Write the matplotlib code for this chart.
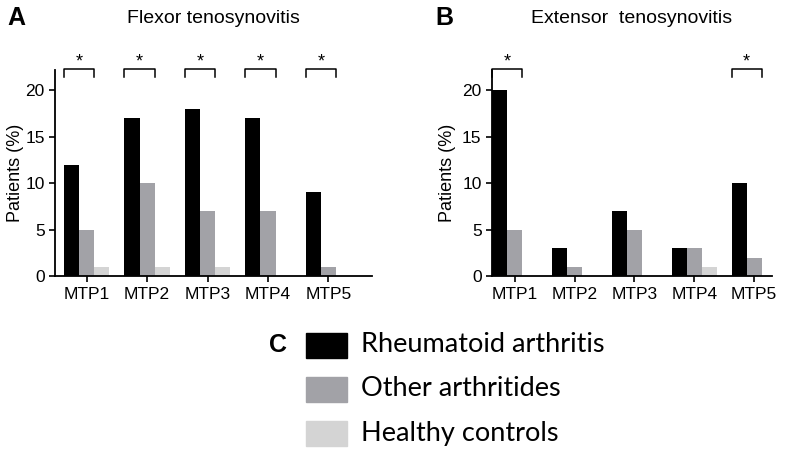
import numpy as np
import matplotlib
matplotlib.use("Agg")
import matplotlib.pyplot as plt
from matplotlib.patches import Rectangle

plt.rcParams["font.family"] = ["Liberation Sans", "DejaVu Sans"]

# data
joints = ["MTP1", "MTP2", "MTP3", "MTP4", "MTP5"]
groups = ["Rheumatoid arthritis", "Other arthritides", "Healthy controls"]
colors = ["#000000", "#a2a2a7", "#d4d4d4"]

flexor_ra = [12, 17, 18, 17, 9]
flexor_oa = [5, 10, 7, 7, 1]
flexor_hc = [1, 1, 1, 0, 0]
flexor_sig = [0, 1, 2, 3, 4]

extensor_ra = [20, 3, 7, 3, 10]
extensor_oa = [5, 1, 5, 3, 2]
extensor_hc = [0, 0, 0, 1, 0]
extensor_sig = [0, 4]


def draw_panel(ax, series, sig, title, xlim):
    x = np.arange(len(joints))
    w = 0.25
    for k, vals in enumerate(series):
        ax.bar(x + (k - 1) * w, vals, width=w, color=colors[k], linewidth=0)

    ax.set_xlim(*xlim)
    ax.set_ylim(0, 22.15)
    ax.set_yticks([0, 5, 10, 15, 20])
    ax.set_xticks(x)
    ax.set_xticklabels(joints)
    ax.tick_params(labelsize=12.5, width=1.2, length=4)
    ax.set_ylabel("Patients (%)", fontsize=13)
    for s in ["top", "right"]:
        ax.spines[s].set_visible(False)
    for s in ["left", "bottom"]:
        ax.spines[s].set_linewidth(1.3)

    # significance brackets between RA and other arthritides
    for i in sig:
        x0, x1 = i - 1.5 * w, i + 0.5 * w
        ax.plot([x0, x0, x1, x1], [21.4, 22.25, 22.25, 21.4], color="black",
                lw=1.1, clip_on=False)
        ax.text(i - 0.5 * w, 22.1, "*", ha="center", va="bottom", fontsize=13,
                clip_on=False)

    ax.text(0.5, 1.252, title, transform=ax.transAxes, ha="center", va="center",
            fontsize=14)


fig = plt.figure(figsize=(8, 4.58), dpi=100)
ax_a = fig.add_axes([0.069, 0.397, 0.396, 0.450])
ax_b = fig.add_axes([0.615, 0.397, 0.350, 0.450])

draw_panel(ax_a, [flexor_ra, flexor_oa, flexor_hc], flexor_sig,
           "Flexor tenosynovitis", (-0.52, 4.72))
draw_panel(ax_b, [extensor_ra, extensor_oa, extensor_hc], extensor_sig,
           "Extensor  tenosynovitis", (-0.38, 4.3))
ax_a.yaxis.set_label_coords(-0.10, 0.5)
ax_b.yaxis.set_label_coords(-0.13, 0.5)

fig.text(0.021, 0.96, "A", fontsize=18, fontweight="bold", va="center", ha="center")
fig.text(0.556, 0.96, "B", fontsize=18, fontweight="bold", va="center", ha="center")

# legend panel C
fig.text(0.347, 1 - 345 / 458, "C", fontsize=18, fontweight="bold",
         va="center", ha="center")
for k, name in enumerate(groups):
    yc = 345 + k * 44
    fig.patches.append(Rectangle((306 / 800, 1 - (yc + 12.5) / 458), 41 / 800, 25 / 458,
                                 transform=fig.transFigure, color=colors[k]))
    fig.text(361 / 800, 1 - yc / 458, name, fontsize=19.5, va="center", ha="left",
             family=["Lato", "DejaVu Sans"])

fig.savefig("out.png", dpi=100)
